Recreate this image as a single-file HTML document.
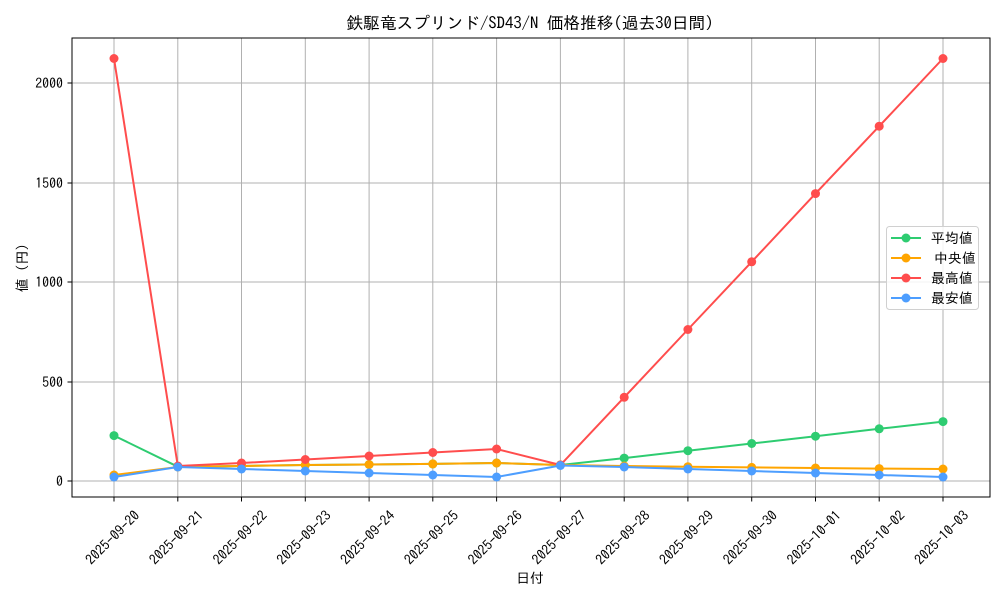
<!DOCTYPE html>
<html><head><meta charset="utf-8"><style>body{margin:0;background:#fff}svg{display:block}text{font-family:"IPAGothic","Noto Sans CJK JP",monospace;fill:#000}</style></head><body>
<svg width="1000" height="600" viewBox="0 0 1000 600">
<rect width="1000" height="600" fill="#fff"/>
<text x="530" y="29" font-size="16.7" text-anchor="middle">鉄駆竜スプリンド/SD43/N 価格推移(過去30日間)</text>
<g stroke="#b0b0b0" stroke-width="1">
<line x1="114" y1="38" x2="114" y2="497"/><line x1="177.8" y1="38" x2="177.8" y2="497"/><line x1="241.5" y1="38" x2="241.5" y2="497"/><line x1="305.3" y1="38" x2="305.3" y2="497"/><line x1="369.1" y1="38" x2="369.1" y2="497"/><line x1="432.8" y1="38" x2="432.8" y2="497"/><line x1="496.6" y1="38" x2="496.6" y2="497"/><line x1="560.4" y1="38" x2="560.4" y2="497"/><line x1="624.2" y1="38" x2="624.2" y2="497"/><line x1="687.9" y1="38" x2="687.9" y2="497"/><line x1="751.7" y1="38" x2="751.7" y2="497"/><line x1="815.5" y1="38" x2="815.5" y2="497"/><line x1="879.2" y1="38" x2="879.2" y2="497"/><line x1="943" y1="38" x2="943" y2="497"/>
<line x1="72" y1="481" x2="990" y2="481"/><line x1="72" y1="382" x2="990" y2="382"/><line x1="72" y1="282" x2="990" y2="282"/><line x1="72" y1="183" x2="990" y2="183"/><line x1="72" y1="83" x2="990" y2="83"/>
</g>
<rect x="72" y="38" width="918" height="459" fill="none" stroke="#000" stroke-width="1"/>
<g stroke="#000"><line x1="67.5" y1="481" x2="72" y2="481"/><line x1="67.5" y1="382" x2="72" y2="382"/><line x1="67.5" y1="282" x2="72" y2="282"/><line x1="67.5" y1="183" x2="72" y2="183"/><line x1="67.5" y1="83" x2="72" y2="83"/>
<line x1="114" y1="497" x2="114" y2="501.5"/><line x1="177.8" y1="497" x2="177.8" y2="501.5"/><line x1="241.5" y1="497" x2="241.5" y2="501.5"/><line x1="305.3" y1="497" x2="305.3" y2="501.5"/><line x1="369.1" y1="497" x2="369.1" y2="501.5"/><line x1="432.8" y1="497" x2="432.8" y2="501.5"/><line x1="496.6" y1="497" x2="496.6" y2="501.5"/><line x1="560.4" y1="497" x2="560.4" y2="501.5"/><line x1="624.2" y1="497" x2="624.2" y2="501.5"/><line x1="687.9" y1="497" x2="687.9" y2="501.5"/><line x1="751.7" y1="497" x2="751.7" y2="501.5"/><line x1="815.5" y1="497" x2="815.5" y2="501.5"/><line x1="879.2" y1="497" x2="879.2" y2="501.5"/><line x1="943" y1="497" x2="943" y2="501.5"/></g>
<g font-size="13.9" text-anchor="end"><text x="63" y="486">0</text><text x="63" y="387">500</text><text x="63" y="287">1000</text><text x="63" y="188">1500</text><text x="63" y="88">2000</text></g>
<text transform="translate(27,268) rotate(-90)" font-size="13.9" text-anchor="middle">値 (円)</text>
<text x="530" y="583" font-size="13.9" text-anchor="middle">日付</text>
<g font-size="13.9" text-anchor="middle">
<text transform="translate(116,541) rotate(-45)">2025-09-20</text><text transform="translate(179.8,541) rotate(-45)">2025-09-21</text><text transform="translate(243.5,541) rotate(-45)">2025-09-22</text><text transform="translate(307.3,541) rotate(-45)">2025-09-23</text><text transform="translate(371.1,541) rotate(-45)">2025-09-24</text><text transform="translate(434.8,541) rotate(-45)">2025-09-25</text><text transform="translate(498.6,541) rotate(-45)">2025-09-26</text><text transform="translate(562.4,541) rotate(-45)">2025-09-27</text><text transform="translate(626.2,541) rotate(-45)">2025-09-28</text><text transform="translate(689.9,541) rotate(-45)">2025-09-29</text><text transform="translate(753.7,541) rotate(-45)">2025-09-30</text><text transform="translate(817.5,541) rotate(-45)">2025-10-01</text><text transform="translate(881.2,541) rotate(-45)">2025-10-02</text><text transform="translate(945,541) rotate(-45)">2025-10-03</text>
</g>
<polyline fill="none" stroke="#2ecc71" stroke-width="2" points="114,435.6 177.8,466.7 241.5,466 305.3,465 369.1,464.5 432.8,463.9 496.6,463 560.4,465 624.2,458.1 687.9,450.7 751.7,443.5 815.5,436.2 879.2,428.8 943,421.6"/>
<g fill="#2ecc71"><circle cx="114" cy="435.6" r="4.5"/><circle cx="177.8" cy="466.7" r="4.5"/><circle cx="241.5" cy="466" r="4.5"/><circle cx="305.3" cy="465" r="4.5"/><circle cx="369.1" cy="464.5" r="4.5"/><circle cx="432.8" cy="463.9" r="4.5"/><circle cx="496.6" cy="463" r="4.5"/><circle cx="560.4" cy="465" r="4.5"/><circle cx="624.2" cy="458.1" r="4.5"/><circle cx="687.9" cy="450.7" r="4.5"/><circle cx="751.7" cy="443.5" r="4.5"/><circle cx="815.5" cy="436.2" r="4.5"/><circle cx="879.2" cy="428.8" r="4.5"/><circle cx="943" cy="421.6" r="4.5"/></g>
<polyline fill="none" stroke="#ffa500" stroke-width="2" points="114,475 177.8,467 241.5,466 305.3,465 369.1,464.5 432.8,463.9 496.6,463 560.4,465 624.2,466 687.9,466.7 751.7,467.4 815.5,468 879.2,468.6 943,469"/>
<g fill="#ffa500"><circle cx="114" cy="475" r="4.5"/><circle cx="177.8" cy="467" r="4.5"/><circle cx="241.5" cy="466" r="4.5"/><circle cx="305.3" cy="465" r="4.5"/><circle cx="369.1" cy="464.5" r="4.5"/><circle cx="432.8" cy="463.9" r="4.5"/><circle cx="496.6" cy="463" r="4.5"/><circle cx="560.4" cy="465" r="4.5"/><circle cx="624.2" cy="466" r="4.5"/><circle cx="687.9" cy="466.7" r="4.5"/><circle cx="751.7" cy="467.4" r="4.5"/><circle cx="815.5" cy="468" r="4.5"/><circle cx="879.2" cy="468.6" r="4.5"/><circle cx="943" cy="469" r="4.5"/></g>
<polyline fill="none" stroke="#ff4d4d" stroke-width="2" points="114,58.5 177.8,466 241.5,463 305.3,459.5 369.1,456 432.8,452.5 496.6,449 560.4,465 624.2,397.3 687.9,329.5 751.7,261.8 815.5,193.6 879.2,126.2 943,58.5"/>
<g fill="#ff4d4d"><circle cx="114" cy="58.5" r="4.5"/><circle cx="177.8" cy="466" r="4.5"/><circle cx="241.5" cy="463" r="4.5"/><circle cx="305.3" cy="459.5" r="4.5"/><circle cx="369.1" cy="456" r="4.5"/><circle cx="432.8" cy="452.5" r="4.5"/><circle cx="496.6" cy="449" r="4.5"/><circle cx="560.4" cy="465" r="4.5"/><circle cx="624.2" cy="397.3" r="4.5"/><circle cx="687.9" cy="329.5" r="4.5"/><circle cx="751.7" cy="261.8" r="4.5"/><circle cx="815.5" cy="193.6" r="4.5"/><circle cx="879.2" cy="126.2" r="4.5"/><circle cx="943" cy="58.5" r="4.5"/></g>
<polyline fill="none" stroke="#4d9eff" stroke-width="2" points="114,477 177.8,467 241.5,469 305.3,471 369.1,473 432.8,475 496.6,477 560.4,465.5 624.2,467 687.9,469 751.7,471 815.5,473 879.2,475 943,477"/>
<g fill="#4d9eff"><circle cx="114" cy="477" r="4.5"/><circle cx="177.8" cy="467" r="4.5"/><circle cx="241.5" cy="469" r="4.5"/><circle cx="305.3" cy="471" r="4.5"/><circle cx="369.1" cy="473" r="4.5"/><circle cx="432.8" cy="475" r="4.5"/><circle cx="496.6" cy="477" r="4.5"/><circle cx="560.4" cy="465.5" r="4.5"/><circle cx="624.2" cy="467" r="4.5"/><circle cx="687.9" cy="469" r="4.5"/><circle cx="751.7" cy="471" r="4.5"/><circle cx="815.5" cy="473" r="4.5"/><circle cx="879.2" cy="475" r="4.5"/><circle cx="943" cy="477" r="4.5"/></g>
<rect x="886.5" y="226.5" width="92" height="83" rx="3" fill="#fff" fill-opacity="0.85" stroke="#d0d0d0"/>
<g stroke-width="2">
<line x1="891" y1="238" x2="921" y2="238" stroke="#2ecc71"/><circle cx="906" cy="238" r="4.5" fill="#2ecc71"/>
<line x1="891" y1="258" x2="921" y2="258" stroke="#ffa500"/><circle cx="906" cy="258" r="4.5" fill="#ffa500"/>
<line x1="891" y1="278" x2="921" y2="278" stroke="#ff4d4d"/><circle cx="906" cy="278" r="4.5" fill="#ff4d4d"/>
<line x1="891" y1="298" x2="921" y2="298" stroke="#4d9eff"/><circle cx="906" cy="298" r="4.5" fill="#4d9eff"/>
</g>
<g font-size="13.9"><text x="931" y="243">平均値</text><text x="934" y="263">中央値</text><text x="931" y="283">最高値</text><text x="931" y="303">最安値</text></g>
</svg>
</body></html>
